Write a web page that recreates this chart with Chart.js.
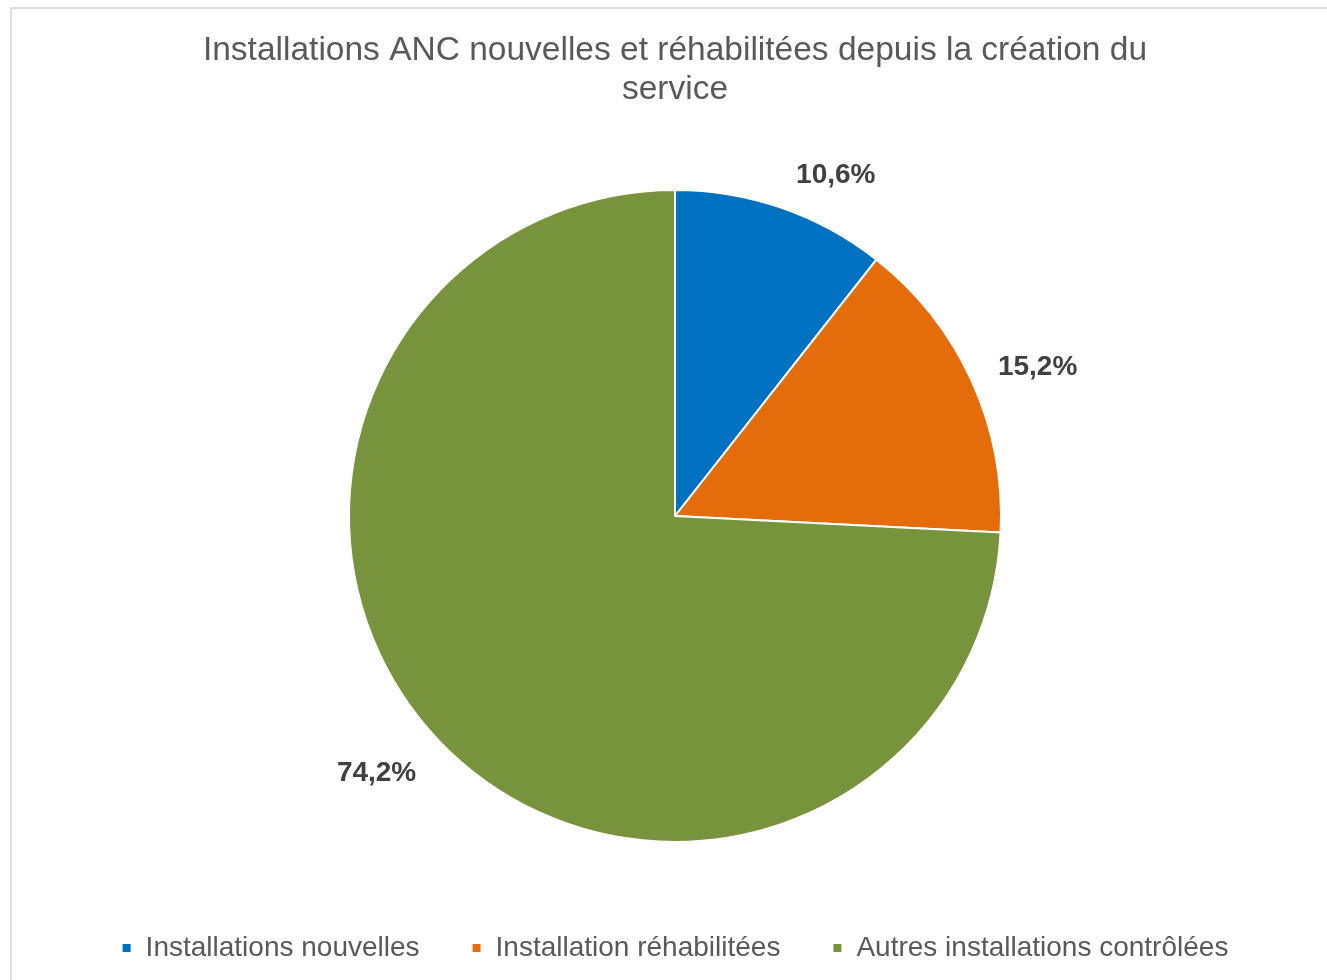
<!DOCTYPE html>
<html lang="fr">
<head>
<meta charset="utf-8">
<title>Installations ANC</title>
<script src="https://cdn.jsdelivr.net/npm/chart.js@4/dist/chart.umd.min.js"></script>
<style>
    html, body { margin: 0; padding: 0; background: #fff; overflow: hidden; }
    #frame {
        position: absolute; left: 10px; top: 7px;
        width: 1400px; height: 1100px;
        border: 2px solid #dedede;
    }
    #chart { position: absolute; left: 0; top: 0; }
</style>
</head>
<body>
<div id="frame"></div>
<canvas id="chart" width="1327" height="980"></canvas>
<script>
// chart data
const titleLines = ['Installations ANC nouvelles et réhabilitées depuis la création du', 'service'];
const categories = ['Installations nouvelles', 'Installation réhabilitées', 'Autres installations contrôlées'];
const shares = [10.6, 15.2, 74.2];
const sliceColors = ['#0070C0', '#E46C0A', '#77933C'];

const FONT = '"Liberation Sans", Arial, sans-serif';

function formatPercent(v) {
    return v.toFixed(1).replace('.', ',') + '%';
}

// draws the percentage labels outside of each slice (Excel "best fit" look)
const outsideLabels = {
    id: 'outsideLabels',
    afterDatasetsDraw(chart) {
        const ctx = chart.ctx;
        const meta = chart.getDatasetMeta(0);
        ctx.save();
        ctx.font = 'bold 28px ' + FONT;
        ctx.fillStyle = '#404040';
        ctx.textAlign = 'center';
        ctx.textBaseline = 'middle';
        meta.data.forEach((arc, i) => {
            const { x, y, startAngle, endAngle, outerRadius } = arc.getProps(['x', 'y', 'startAngle', 'endAngle', 'outerRadius'], true);
            const mid = (startAngle + endAngle) / 2;
            const ux = Math.cos(mid);
            const uy = Math.sin(mid);
            const text = formatPercent(shares[i]);
            const w = ctx.measureText(text).width;
            const px = x + outerRadius * ux + Math.sign(ux) * (w / 2 + 8) + 20 * ux;
            const py = y + outerRadius * uy + uy * 34 + Math.max(uy, 0) * 14;
            ctx.fillText(text, px, py);
        });
        ctx.restore();
    }
};

new Chart(document.getElementById('chart'), {
    type: 'pie',
    data: {
        labels: categories,
        datasets: [{
            data: shares,
            backgroundColor: sliceColors,
            borderColor: '#ffffff',
            borderWidth: 2,
            hoverOffset: 0
        }]
    },
    options: {
        responsive: false,
        devicePixelRatio: 1,
        animation: false,
        layout: { padding: { left: 23, right: 0, top: 0, bottom: 8 } },
        plugins: {
            title: {
                display: true,
                text: titleLines,
                color: '#595959',
                font: { family: FONT, size: 33.5, weight: 'normal', lineHeight: 39 / 33.5 },
                padding: { top: 31.5, bottom: 79.5 }
            },
            legend: {
                display: true,
                position: 'bottom',
                title: {
                    display: true,
                    text: '',
                    font: { size: 10, lineHeight: 1 },
                    padding: { top: 29, bottom: 0 }
                },
                labels: {
                    color: '#595959',
                    font: { family: FONT, size: 28 },
                    boxWidth: 10,
                    boxHeight: 10,
                    padding: 52
                }
            },
            tooltip: { enabled: false }
        }
    },
    plugins: [outsideLabels]
});
</script>
</body>
</html>
